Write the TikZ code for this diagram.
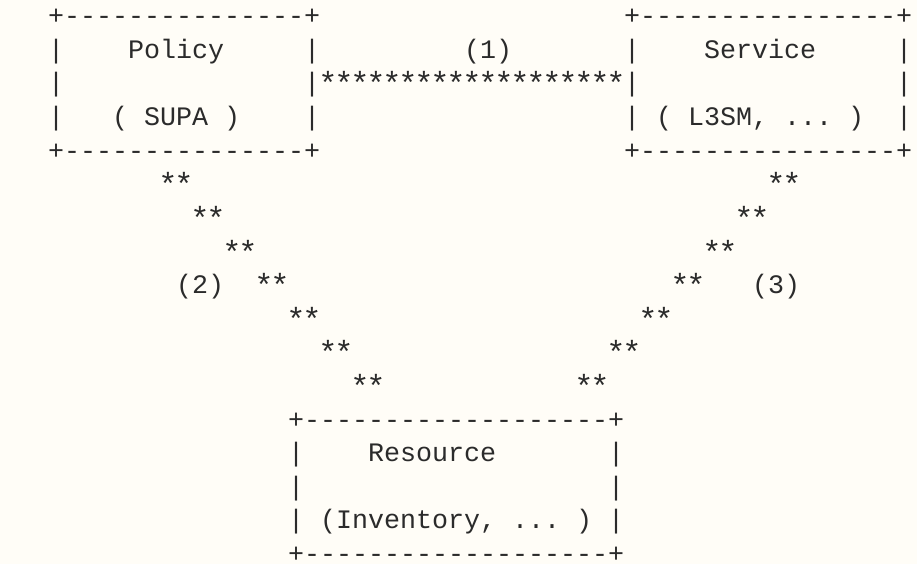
\documentclass[tikz,border=0pt]{standalone}
\usepackage{fontspec}
\setmonofont{Liberation Mono}
\definecolor{paper}{HTML}{FFFDF7}
\definecolor{ink}{HTML}{2B2B2B}
\tikzset{
  glyphs/.style={font=\ttfamily\fontsize{26.67pt}{33.6pt}\selectfont, text=ink,
                 inner sep=0pt, outer sep=0pt, anchor=base west},
  starrun/.style={yshift=-3pt},
}
% \asciiseg[extra style]{name}{row}{column}{text}: one run of characters on the 16 x 33.6 grid
\newcommand\asciiseg[5][]{\node[glyphs,#1] (#2) at ({16*#4},{-24.8-33.6*#3}) {#5};}
% a run of asterisks, one slightly enlarged glyph per 16pt cell
\newcommand\starcells[1]{\foreach \k in {1,...,#1}{\makebox[16pt]{\fontsize{32pt}{32pt}\selectfont *}}}
\begin{document}
\begin{tikzpicture}[x=1pt,y=1pt]
  \fill[paper] (0,0) rectangle (917,-564);
  \useasboundingbox (0,0) rectangle (917,-564);

  % Policy box
  \asciiseg{polTop}{0}{3}{+---------------+}
  \asciiseg{polL1}{1}{3}{|}
  \asciiseg{polName}{1}{8}{Policy}
  \asciiseg{polR1}{1}{19}{|}
  \asciiseg{polL2}{2}{3}{|}
  \asciiseg{polR2}{2}{19}{|}
  \asciiseg{polL3}{3}{3}{|}
  \asciiseg{polSub}{3}{7}{( SUPA )}
  \asciiseg{polR3}{3}{19}{|}
  \asciiseg{polBot}{4}{3}{+---------------+}

  % Service box
  \asciiseg{srvTop}{0}{39}{+----------------+}
  \asciiseg{srvL1}{1}{39}{|}
  \asciiseg{srvName}{1}{44}{Service}
  \asciiseg{srvR1}{1}{56}{|}
  \asciiseg{srvL2}{2}{39}{|}
  \asciiseg{srvR2}{2}{56}{|}
  \asciiseg{srvL3}{3}{39}{|}
  \asciiseg{srvSub}{3}{41}{( L3SM, ... )}
  \asciiseg{srvR3}{3}{56}{|}
  \asciiseg{srvBot}{4}{39}{+----------------+}

  % link (1) between Policy and Service
  \asciiseg{lblOne}{1}{29}{(1)}
  \asciiseg[starrun]{linkOne}{2}{20}{\starcells{19}}

  % link (2) from Policy down to Resource
  \asciiseg[starrun]{lnkTwoA}{5}{10}{\starcells{2}}
  \asciiseg[starrun]{lnkTwoB}{6}{12}{\starcells{2}}
  \asciiseg[starrun]{lnkTwoC}{7}{14}{\starcells{2}}
  \asciiseg[starrun]{lnkTwoD}{8}{16}{\starcells{2}}
  \asciiseg[starrun]{lnkTwoE}{9}{18}{\starcells{2}}
  \asciiseg[starrun]{lnkTwoF}{10}{20}{\starcells{2}}
  \asciiseg[starrun]{lnkTwoG}{11}{22}{\starcells{2}}
  \asciiseg{lblTwo}{8}{11}{(2)}

  % link (3) from Service down to Resource
  \asciiseg[starrun]{lnkThrA}{5}{48}{\starcells{2}}
  \asciiseg[starrun]{lnkThrB}{6}{46}{\starcells{2}}
  \asciiseg[starrun]{lnkThrC}{7}{44}{\starcells{2}}
  \asciiseg[starrun]{lnkThrD}{8}{42}{\starcells{2}}
  \asciiseg[starrun]{lnkThrE}{9}{40}{\starcells{2}}
  \asciiseg[starrun]{lnkThrF}{10}{38}{\starcells{2}}
  \asciiseg[starrun]{lnkThrG}{11}{36}{\starcells{2}}
  \asciiseg{lblThr}{8}{47}{(3)}

  % Resource box
  \asciiseg{resTop}{12}{18}{+-------------------+}
  \asciiseg{resL1}{13}{18}{|}
  \asciiseg{resName}{13}{23}{Resource}
  \asciiseg{resR1}{13}{38}{|}
  \asciiseg{resL2}{14}{18}{|}
  \asciiseg{resR2}{14}{38}{|}
  \asciiseg{resL3}{15}{18}{|}
  \asciiseg{resSub}{15}{20}{(Inventory, ... )}
  \asciiseg{resR3}{15}{38}{|}
  \asciiseg{resBot}{16}{18}{+-------------------+}
\end{tikzpicture}
\end{document}
